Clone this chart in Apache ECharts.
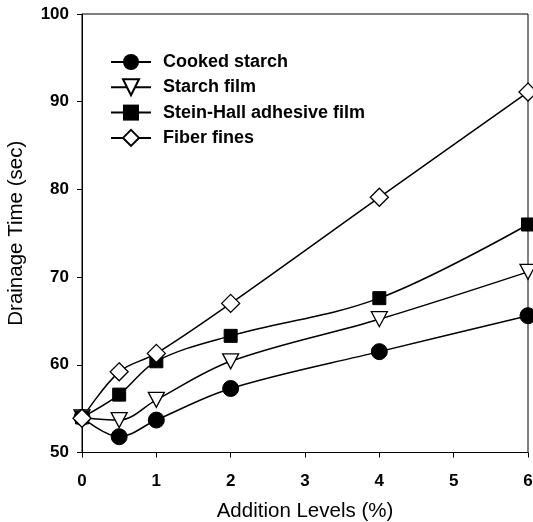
<!DOCTYPE html>
<html>
<head>
<meta charset="utf-8">
<script src="https://cdn.jsdelivr.net/npm/echarts@6/dist/echarts.min.js"></script>
<style>html,body{margin:0;padding:0;background:#fff;}#c{width:533px;height:522px;}</style>
</head>
<body>
<div id="c"></div>
<script>
const xLevels = [0, 0.5, 1, 2, 4, 6];
const cookedStarch = [54.0, 51.8, 53.7, 57.3, 61.5, 65.6];
const starchFilm = [54.0, 53.7, 56.0, 60.4, 65.2, 70.6];
const steinHall = [54.0, 56.6, 60.4, 63.3, 67.6, 76.0];
const fiberFines = [53.9, 59.2, 61.3, 67.0, 79.1, 91.1];
const seriesNames = ['Cooked starch', 'Starch film', 'Stein-Hall adhesive film', 'Fiber fines'];

function pairs(ys) { return xLevels.map((x, i) => [x, ys[i]]); }

const triDown = 'path://M0,0 L20,0 L10,18 Z';
const common = {
  type: 'line', smooth: 0.35,
  lineStyle: { color: '#000', width: 1.5 },
  itemStyle: { color: '#000', borderColor: '#000', borderWidth: 1.2 },
  emphasis: { disabled: true },
  z: 3
};
const chart = echarts.init(document.getElementById('c'), null, { renderer: 'canvas' });
chart.setOption({
  animation: false,
  backgroundColor: '#fff',
  grid: { left: 82, right: 5, top: 14, bottom: 69.5, containLabel: false, outerBoundsMode: 'none',
    show: true, borderColor: '#000', borderWidth: 1 },
  legend: {
    left: 105, top: 48, orient: 'vertical', itemWidth: 40, itemHeight: 20, itemGap: 7.3,
    textStyle: { fontFamily: 'Liberation Sans', fontWeight: 'bold', fontSize: 18, color: '#000', padding: [0, 0, 0, 7] },
    data: seriesNames
  },
  xAxis: {
    type: 'value', min: 0, max: 6, interval: 1,
    name: 'Addition Levels (%)', nameLocation: 'middle', nameGap: 48,
    nameTextStyle: { fontFamily: 'Liberation Sans', fontSize: 20.5, color: '#000' },
    axisLine: { lineStyle: { color: '#000', width: 1 } },
    axisTick: { show: true, inside: false, length: 5, lineStyle: { color: '#000' } },
    axisLabel: { margin: 20, fontFamily: 'Liberation Sans', fontWeight: 'bold', fontSize: 17, color: '#000' },
    splitLine: { show: false }
  },
  yAxis: {
    type: 'value', min: 50, max: 100, interval: 10,
    name: 'Drainage Time (sec)', nameLocation: 'middle', nameGap: 55,
    nameTextStyle: { fontFamily: 'Liberation Sans', fontSize: 20.5, color: '#000' },
    axisLine: { show: true, lineStyle: { color: '#000', width: 1 } },
    axisTick: { show: true, inside: false, length: 5, lineStyle: { color: '#000' } },
    axisLabel: { margin: 13, fontFamily: 'Liberation Sans', fontWeight: 'bold', fontSize: 17, color: '#000' },
    splitLine: { show: false }
  },
  series: [
    Object.assign({}, common, { name: seriesNames[0], data: pairs(cookedStarch), symbol: 'circle', symbolSize: 16,
      itemStyle: { color: '#000', borderColor: '#000' } }),
    Object.assign({}, common, { name: seriesNames[1], data: pairs(starchFilm), symbol: triDown, symbolSize: [16, 15],
      itemStyle: { color: '#fff', borderColor: '#000', borderWidth: 1.3 } }),
    Object.assign({}, common, { name: seriesNames[2], data: pairs(steinHall), symbol: 'rect', symbolSize: 13,
      itemStyle: { color: '#000', borderColor: '#000' } }),
    Object.assign({}, common, { name: seriesNames[3], data: pairs(fiberFines), symbol: 'diamond', symbolSize: 18,
      itemStyle: { color: '#fff', borderColor: '#000', borderWidth: 1.3 } })
  ]
});
</script>
</body>
</html>
